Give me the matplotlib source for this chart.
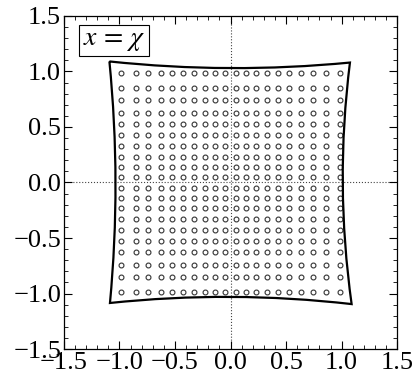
import numpy as np
import matplotlib.pyplot as plt
from matplotlib.path import Path
from matplotlib.patches import PathPatch
from matplotlib.ticker import MultipleLocator

plt.rcParams['font.family'] = ['Liberation Serif', 'DejaVu Serif']
plt.rcParams['mathtext.fontset'] = 'stix'

# grid node coordinates (same set for x and y)
nodes = [-0.985, -0.855, -0.74, -0.63, -0.53, -0.43, -0.33, -0.23, -0.14, -0.05,
         0.05, 0.14, 0.23, 0.33, 0.43, 0.53, 0.63, 0.74, 0.855, 0.985]

# boundary: corners (TL, TR, BR, BL) and mid-side positions (top, right, bottom, left)
corners = [(-1.09, 1.09), (1.075, 1.08), (1.09, -1.095), (-1.085, -1.085)]
side_mid = [1.03, 1.01, -1.03, -1.035]

label = r'$x\,=\,\chi$'

fig = plt.figure(figsize=(4.12, 3.79), dpi=100)
ax = fig.add_axes([0.155, 0.079, 0.809, 0.879])

# boundary built from quadratic Bezier sides
verts, codes = [corners[0]], [Path.MOVETO]
for i in range(4):
    p0 = np.array(corners[i])
    p2 = np.array(corners[(i + 1) % 4])
    c = 0.5 * (p0 + p2)
    axis = 1 if i % 2 == 0 else 0  # top/bottom bend in y, right/left in x
    c[axis] = 2 * side_mid[i] - 0.5 * (p0[axis] + p2[axis])
    verts += [tuple(c), tuple(p2)]
    codes += [Path.CURVE3, Path.CURVE3]
ax.add_patch(PathPatch(Path(verts, codes), facecolor='none', edgecolor='black', lw=1.6, zorder=3))

X, Y = np.meshgrid(nodes, nodes)
ax.plot(X.ravel(), Y.ravel(), 'o', ms=3.5, mfc='none', mec='#333333', mew=0.8, zorder=2)

ax.axhline(0, color='#444444', ls=':', lw=0.8, zorder=1)
ax.axvline(0, color='#444444', ls=':', lw=0.8, zorder=1)

ax.text(-1.33, 1.28, label, fontsize=20, va='center', ha='left',
        bbox=dict(boxstyle='square,pad=0.12', fc='white', ec='black', lw=0.8))

ax.set_xlim(-1.5, 1.5)
ax.set_ylim(-1.5, 1.5)
for a in (ax.xaxis, ax.yaxis):
    a.set_major_locator(MultipleLocator(0.5))
    a.set_minor_locator(MultipleLocator(0.1))
ax.tick_params(which='both', direction='in', top=True, right=True, labelsize=19, pad=2)
ax.tick_params(which='major', length=6, width=0.8)
ax.tick_params(which='minor', length=3, width=0.6)
ax.set_xticks(ax.get_xticks())
ax.set_yticks(ax.get_yticks())
ax.set_xticklabels([f'{v:.1f}'.replace('-', '\u2212') for v in ax.get_xticks()])
ax.set_yticklabels([f'{v:.1f}'.replace('-', '\u2212') for v in ax.get_yticks()])
ax.set_xlim(-1.5, 1.5)
ax.set_ylim(-1.5, 1.5)
for s in ax.spines.values():
    s.set_linewidth(0.9)

fig.savefig('out.png', dpi=100)
